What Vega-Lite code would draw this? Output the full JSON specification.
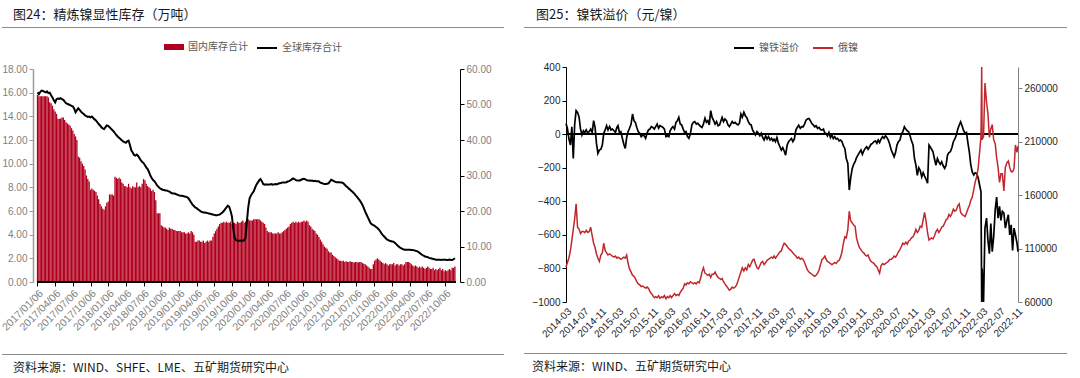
{
"$schema":"https://vega.github.io/schema/vega-lite/v6.json",
"padding":{"left":0,"top":8,"right":0,"bottom":0},
"background":"white",
"config":{"view":{"stroke":null},"font":"Noto Sans CJK SC",
"axis":{"grid":false,"title":null,"labelFont":"Liberation Sans","labelFontSize":10,"tickSize":4,"labelOverlap":false,"tickCount":100},
"legend":{"layout":{"top":{"anchor":"middle","direction":"horizontal","margin":8}}}},
"datasets":{
"inv":[
{"d":"2017-01-06","c":15.8,"g":53.4},{"d":"2017-01-13","c":15.7,"g":52.9},{"d":"2017-01-20","c":15.7,"g":53.5},{"d":"2017-01-27","c":15.7,"g":53.9},{"d":"2017-02-03","c":15.7,"g":53.8},{"d":"2017-02-10","c":15.7,"g":53.6},{"d":"2017-02-17","c":15.7,"g":53.4},{"d":"2017-02-24","c":15.7,"g":53.7},{"d":"2017-03-03","c":15.6,"g":53.2},{"d":"2017-03-10","c":15.2,"g":53.3},{"d":"2017-03-17","c":15.1,"g":52.6},{"d":"2017-03-24","c":14.9,"g":52.0},{"d":"2017-03-31","c":14.6,"g":51.2},
{"d":"2017-04-07","c":14.4,"g":50.6},{"d":"2017-04-14","c":14.2,"g":51.5},{"d":"2017-04-21","c":13.8,"g":51.7},{"d":"2017-04-28","c":13.8,"g":51.6},{"d":"2017-05-05","c":13.8,"g":51.8},{"d":"2017-05-12","c":13.9,"g":51.5},{"d":"2017-05-19","c":13.9,"g":51.3},{"d":"2017-05-26","c":13.7,"g":50.8},{"d":"2017-06-02","c":13.5,"g":50.4},{"d":"2017-06-09","c":13.4,"g":50.2},{"d":"2017-06-16","c":13.3,"g":50.0},{"d":"2017-06-23","c":13.2,"g":49.8},{"d":"2017-06-30","c":13.0,"g":49.6},
{"d":"2017-07-07","c":12.8,"g":49.5},{"d":"2017-07-14","c":12.5,"g":48.8},{"d":"2017-07-21","c":12.3,"g":47.8},{"d":"2017-07-28","c":12.0,"g":48.4},{"d":"2017-08-04","c":10.6,"g":48.9},{"d":"2017-08-11","c":10.5,"g":48.5},{"d":"2017-08-18","c":10.2,"g":48.0},{"d":"2017-08-25","c":10.0,"g":47.6},{"d":"2017-09-01","c":9.8,"g":47.3},{"d":"2017-09-08","c":9.5,"g":46.9},{"d":"2017-09-15","c":9.0,"g":46.7},{"d":"2017-09-22","c":8.7,"g":46.5},{"d":"2017-09-29","c":8.5,"g":46.6},
{"d":"2017-10-06","c":7.8,"g":46.4},{"d":"2017-10-13","c":7.9,"g":46.6},{"d":"2017-10-20","c":7.8,"g":46.2},{"d":"2017-10-27","c":7.7,"g":45.8},{"d":"2017-11-03","c":7.6,"g":45.5},{"d":"2017-11-10","c":7.3,"g":45.0},{"d":"2017-11-17","c":7.0,"g":44.5},{"d":"2017-11-24","c":6.6,"g":44.1},{"d":"2017-12-01","c":6.4,"g":43.6},{"d":"2017-12-08","c":6.2,"g":43.3},{"d":"2017-12-15","c":6.1,"g":43.1},{"d":"2017-12-22","c":6.4,"g":43.6},{"d":"2017-12-29","c":6.7,"g":44.1},
{"d":"2018-01-05","c":6.8,"g":44.0},{"d":"2018-01-12","c":7.4,"g":43.6},{"d":"2018-01-19","c":7.4,"g":43.2},{"d":"2018-01-26","c":7.4,"g":42.8},{"d":"2018-02-02","c":7.3,"g":42.4},{"d":"2018-02-09","c":8.9,"g":41.9},{"d":"2018-02-16","c":8.8,"g":41.4},{"d":"2018-02-23","c":8.7,"g":41.0},{"d":"2018-03-02","c":8.8,"g":40.6},{"d":"2018-03-09","c":8.7,"g":40.3},{"d":"2018-03-16","c":8.4,"g":39.9},{"d":"2018-03-23","c":8.3,"g":39.6},{"d":"2018-03-30","c":8.1,"g":39.4},
{"d":"2018-04-06","c":8.1,"g":39.2},{"d":"2018-04-13","c":8.0,"g":39.6},{"d":"2018-04-20","c":8.3,"g":39.8},{"d":"2018-04-27","c":8.0,"g":38.6},{"d":"2018-05-04","c":7.9,"g":37.1},{"d":"2018-05-11","c":8.1,"g":36.5},{"d":"2018-05-18","c":8.0,"g":35.8},{"d":"2018-05-25","c":8.0,"g":35.6},{"d":"2018-06-01","c":8.4,"g":35.9},{"d":"2018-06-08","c":8.0,"g":35.5},{"d":"2018-06-15","c":8.1,"g":34.9},{"d":"2018-06-22","c":8.0,"g":34.3},{"d":"2018-06-29","c":8.3,"g":33.8},
{"d":"2018-07-06","c":8.7,"g":33.5},{"d":"2018-07-13","c":8.6,"g":32.9},{"d":"2018-07-20","c":8.3,"g":32.3},{"d":"2018-07-27","c":8.1,"g":31.8},{"d":"2018-08-03","c":8.0,"g":31.0},{"d":"2018-08-10","c":7.9,"g":30.0},{"d":"2018-08-17","c":7.7,"g":29.3},{"d":"2018-08-24","c":7.8,"g":28.7},{"d":"2018-08-31","c":7.6,"g":28.4},{"d":"2018-09-07","c":6.9,"g":27.8},{"d":"2018-09-14","c":5.8,"g":27.2},{"d":"2018-09-21","c":5.8,"g":26.8},{"d":"2018-09-28","c":5.8,"g":26.4},
{"d":"2018-10-05","c":4.8,"g":26.2},{"d":"2018-10-12","c":4.7,"g":26.0},{"d":"2018-10-19","c":4.6,"g":25.9},{"d":"2018-10-26","c":4.6,"g":25.8},{"d":"2018-11-02","c":4.5,"g":25.8},{"d":"2018-11-09","c":4.4,"g":25.6},{"d":"2018-11-16","c":4.6,"g":25.5},{"d":"2018-11-23","c":4.5,"g":25.2},{"d":"2018-11-30","c":4.5,"g":25.0},{"d":"2018-12-07","c":4.4,"g":24.9},{"d":"2018-12-14","c":4.4,"g":24.9},{"d":"2018-12-21","c":4.3,"g":24.7},{"d":"2018-12-28","c":4.3,"g":24.6},
{"d":"2019-01-04","c":4.3,"g":24.4},{"d":"2019-01-11","c":4.3,"g":24.3},{"d":"2019-01-18","c":4.2,"g":24.3},{"d":"2019-01-25","c":4.2,"g":24.2},{"d":"2019-02-01","c":4.2,"g":24.1},{"d":"2019-02-08","c":4.1,"g":24.0},{"d":"2019-02-15","c":4.1,"g":23.9},{"d":"2019-02-22","c":4.2,"g":23.6},{"d":"2019-03-01","c":4.1,"g":23.0},{"d":"2019-03-08","c":4.3,"g":22.4},{"d":"2019-03-15","c":4.2,"g":21.8},{"d":"2019-03-22","c":4.0,"g":21.4},{"d":"2019-03-29","c":3.4,"g":21.0},
{"d":"2019-04-05","c":3.4,"g":20.8},{"d":"2019-04-12","c":3.5,"g":20.5},{"d":"2019-04-19","c":3.5,"g":20.2},{"d":"2019-04-26","c":3.4,"g":19.9},{"d":"2019-05-03","c":3.4,"g":19.7},{"d":"2019-05-10","c":3.5,"g":19.6},{"d":"2019-05-17","c":3.3,"g":19.6},{"d":"2019-05-24","c":3.4,"g":19.5},{"d":"2019-05-31","c":3.5,"g":19.4},{"d":"2019-06-07","c":3.4,"g":19.3},{"d":"2019-06-14","c":3.5,"g":19.2},{"d":"2019-06-21","c":3.5,"g":19.1},{"d":"2019-06-28","c":3.8,"g":19.0},
{"d":"2019-07-05","c":4.1,"g":18.9},{"d":"2019-07-12","c":4.3,"g":18.8},{"d":"2019-07-19","c":4.5,"g":18.8},{"d":"2019-07-26","c":4.7,"g":18.9},{"d":"2019-08-02","c":4.9,"g":19.0},{"d":"2019-08-09","c":5.0,"g":19.3},{"d":"2019-08-16","c":5.0,"g":19.6},{"d":"2019-08-23","c":5.1,"g":20.0},{"d":"2019-08-30","c":5.0,"g":20.5},{"d":"2019-09-06","c":5.1,"g":21.0},{"d":"2019-09-13","c":5.0,"g":21.5},{"d":"2019-09-20","c":5.0,"g":21.2},{"d":"2019-09-27","c":5.1,"g":20.0},
{"d":"2019-10-04","c":4.9,"g":18.5},{"d":"2019-10-11","c":5.0,"g":15.0},{"d":"2019-10-18","c":5.0,"g":12.5},{"d":"2019-10-25","c":4.9,"g":11.8},{"d":"2019-11-01","c":5.1,"g":11.6},{"d":"2019-11-08","c":5.0,"g":11.6},{"d":"2019-11-15","c":5.0,"g":11.6},{"d":"2019-11-22","c":5.1,"g":11.7},{"d":"2019-11-29","c":5.2,"g":11.6},{"d":"2019-12-06","c":5.0,"g":11.7},{"d":"2019-12-13","c":5.1,"g":12.5},{"d":"2019-12-20","c":5.2,"g":17.0},{"d":"2019-12-27","c":5.3,"g":21.0},
{"d":"2020-01-03","c":5.2,"g":23.6},{"d":"2020-01-10","c":5.2,"g":24.4},{"d":"2020-01-17","c":5.2,"g":25.0},{"d":"2020-01-24","c":5.3,"g":25.5},{"d":"2020-01-31","c":5.3,"g":26.5},{"d":"2020-02-07","c":5.3,"g":27.4},{"d":"2020-02-14","c":5.3,"g":28.0},{"d":"2020-02-21","c":5.3,"g":28.6},{"d":"2020-02-28","c":5.2,"g":29.0},{"d":"2020-03-06","c":5.1,"g":28.4},{"d":"2020-03-13","c":5.0,"g":27.6},{"d":"2020-03-20","c":4.9,"g":27.4},{"d":"2020-03-27","c":4.6,"g":27.5},
{"d":"2020-04-03","c":4.3,"g":27.4},{"d":"2020-04-10","c":4.2,"g":27.5},{"d":"2020-04-17","c":4.2,"g":27.5},{"d":"2020-04-24","c":4.2,"g":27.6},{"d":"2020-05-01","c":4.1,"g":27.4},{"d":"2020-05-08","c":4.1,"g":27.5},{"d":"2020-05-15","c":4.1,"g":27.6},{"d":"2020-05-22","c":4.1,"g":27.5},{"d":"2020-05-29","c":4.2,"g":27.7},{"d":"2020-06-05","c":4.1,"g":27.8},{"d":"2020-06-12","c":4.1,"g":27.9},{"d":"2020-06-19","c":4.2,"g":28.0},{"d":"2020-06-26","c":4.3,"g":28.0},
{"d":"2020-07-03","c":4.4,"g":28.0},{"d":"2020-07-10","c":4.5,"g":28.1},{"d":"2020-07-17","c":4.6,"g":28.3},{"d":"2020-07-24","c":4.7,"g":28.4},{"d":"2020-07-31","c":4.9,"g":28.6},{"d":"2020-08-07","c":5.0,"g":28.9},{"d":"2020-08-14","c":5.1,"g":29.2},{"d":"2020-08-21","c":5.0,"g":29.0},{"d":"2020-08-28","c":5.1,"g":28.7},{"d":"2020-09-04","c":5.0,"g":28.6},{"d":"2020-09-11","c":5.1,"g":28.6},{"d":"2020-09-18","c":5.0,"g":28.6},{"d":"2020-09-25","c":5.1,"g":28.8},
{"d":"2020-10-02","c":5.1,"g":29.0},{"d":"2020-10-09","c":5.2,"g":29.1},{"d":"2020-10-16","c":5.1,"g":28.9},{"d":"2020-10-23","c":5.2,"g":28.7},{"d":"2020-10-30","c":5.1,"g":28.6},{"d":"2020-11-06","c":4.8,"g":28.6},{"d":"2020-11-13","c":4.7,"g":28.5},{"d":"2020-11-20","c":4.5,"g":28.6},{"d":"2020-11-27","c":4.4,"g":28.4},{"d":"2020-12-04","c":4.3,"g":28.5},{"d":"2020-12-11","c":4.1,"g":28.4},{"d":"2020-12-18","c":4.0,"g":28.4},{"d":"2020-12-25","c":3.8,"g":28.3},
{"d":"2021-01-01","c":3.6,"g":28.0},{"d":"2021-01-08","c":3.4,"g":27.9},{"d":"2021-01-15","c":3.2,"g":27.7},{"d":"2021-01-22","c":3.0,"g":27.6},{"d":"2021-01-29","c":2.9,"g":27.6},{"d":"2021-02-05","c":2.8,"g":27.7},{"d":"2021-02-12","c":2.6,"g":27.8},{"d":"2021-02-19","c":2.5,"g":28.3},{"d":"2021-02-26","c":2.5,"g":28.8},{"d":"2021-03-05","c":2.3,"g":28.6},{"d":"2021-03-12","c":2.2,"g":28.4},{"d":"2021-03-19","c":2.1,"g":28.2},{"d":"2021-03-26","c":2.0,"g":28.1},
{"d":"2021-04-02","c":1.9,"g":28.1},{"d":"2021-04-09","c":1.8,"g":28.1},{"d":"2021-04-16","c":1.8,"g":28.0},{"d":"2021-04-23","c":1.75,"g":28.0},{"d":"2021-04-30","c":1.8,"g":27.8},{"d":"2021-05-07","c":1.7,"g":27.4},{"d":"2021-05-14","c":1.75,"g":27.0},{"d":"2021-05-21","c":1.7,"g":26.7},{"d":"2021-05-28","c":1.7,"g":26.3},{"d":"2021-06-04","c":1.75,"g":26.0},{"d":"2021-06-11","c":1.7,"g":25.6},{"d":"2021-06-18","c":1.7,"g":25.3},{"d":"2021-06-25","c":1.65,"g":24.9},
{"d":"2021-07-02","c":1.7,"g":24.4},{"d":"2021-07-09","c":1.7,"g":24.0},{"d":"2021-07-16","c":1.65,"g":23.5},{"d":"2021-07-23","c":1.7,"g":23.0},{"d":"2021-07-30","c":1.7,"g":22.4},{"d":"2021-08-06","c":1.6,"g":21.7},{"d":"2021-08-13","c":1.55,"g":20.8},{"d":"2021-08-20","c":1.5,"g":19.8},{"d":"2021-08-27","c":1.4,"g":19.0},{"d":"2021-09-03","c":1.3,"g":18.2},{"d":"2021-09-10","c":1.2,"g":17.4},{"d":"2021-09-17","c":1.1,"g":16.6},{"d":"2021-09-24","c":1.1,"g":16.2},
{"d":"2021-10-01","c":1.5,"g":16.0},{"d":"2021-10-08","c":1.8,"g":15.8},{"d":"2021-10-15","c":1.9,"g":15.5},{"d":"2021-10-22","c":2.0,"g":15.2},{"d":"2021-10-29","c":1.9,"g":14.8},{"d":"2021-11-05","c":1.8,"g":14.3},{"d":"2021-11-12","c":1.7,"g":13.7},{"d":"2021-11-19","c":1.6,"g":13.2},{"d":"2021-11-26","c":1.5,"g":12.8},{"d":"2021-12-03","c":1.6,"g":12.4},{"d":"2021-12-10","c":1.5,"g":12.0},{"d":"2021-12-17","c":1.4,"g":11.8},{"d":"2021-12-24","c":1.5,"g":11.6},
{"d":"2021-12-31","c":1.5,"g":11.5},{"d":"2022-01-07","c":1.5,"g":11.4},{"d":"2022-01-14","c":1.6,"g":11.3},{"d":"2022-01-21","c":1.4,"g":11.0},{"d":"2022-01-28","c":1.5,"g":10.6},{"d":"2022-02-04","c":1.5,"g":10.2},{"d":"2022-02-11","c":1.4,"g":9.9},{"d":"2022-02-18","c":1.5,"g":9.6},{"d":"2022-02-25","c":1.5,"g":9.4},{"d":"2022-03-04","c":1.4,"g":9.2},{"d":"2022-03-11","c":1.5,"g":9.1},{"d":"2022-03-18","c":1.7,"g":9.1},{"d":"2022-03-25","c":1.7,"g":9.1},
{"d":"2022-04-01","c":1.7,"g":9.1},{"d":"2022-04-08","c":1.6,"g":9.1},{"d":"2022-04-15","c":1.5,"g":9.0},{"d":"2022-04-22","c":1.4,"g":9.0},{"d":"2022-04-29","c":1.3,"g":8.9},{"d":"2022-05-06","c":1.4,"g":8.8},{"d":"2022-05-13","c":1.3,"g":8.7},{"d":"2022-05-20","c":1.2,"g":8.5},{"d":"2022-05-27","c":1.3,"g":8.2},{"d":"2022-06-03","c":1.2,"g":7.9},{"d":"2022-06-10","c":1.3,"g":7.6},{"d":"2022-06-17","c":1.2,"g":7.4},{"d":"2022-06-24","c":1.1,"g":7.2},
{"d":"2022-07-01","c":1.2,"g":7.1},{"d":"2022-07-08","c":1.3,"g":7.0},{"d":"2022-07-15","c":1.2,"g":6.8},{"d":"2022-07-22","c":1.1,"g":6.7},{"d":"2022-07-29","c":1.1,"g":6.6},{"d":"2022-08-05","c":1.2,"g":6.5},{"d":"2022-08-12","c":1.0,"g":6.4},{"d":"2022-08-19","c":1.1,"g":6.3},{"d":"2022-08-26","c":1.0,"g":6.3},{"d":"2022-09-02","c":1.1,"g":6.3},{"d":"2022-09-09","c":1.2,"g":6.3},{"d":"2022-09-16","c":1.0,"g":6.2},{"d":"2022-09-23","c":1.1,"g":6.3},
{"d":"2022-09-30","c":0.9,"g":6.3},{"d":"2022-10-07","c":1.0,"g":6.3},{"d":"2022-10-14","c":0.9,"g":6.2},{"d":"2022-10-21","c":1.0,"g":6.2},{"d":"2022-10-28","c":1.1,"g":6.3},{"d":"2022-11-04","c":1.0,"g":6.2},{"d":"2022-11-11","c":1.2,"g":6.2},{"d":"2022-11-18","c":1.2,"g":6.4},{"d":"2022-11-25","c":1.3,"g":6.7}
],
"ni":[
{"d":"2014-03-01","p":63,"r":92800},{"d":"2014-03-11","p":34,"r":97000},{"d":"2014-03-21","p":-26,"r":101000},
{"d":"2014-04-01","p":-65,"r":108000},{"d":"2014-04-11","p":44,"r":118000},{"d":"2014-04-21","p":-145,"r":128000},
{"d":"2014-05-01","p":60,"r":138000},{"d":"2014-05-11","p":140,"r":152000},{"d":"2014-05-21","p":130,"r":130000},
{"d":"2014-06-01","p":100,"r":128000},{"d":"2014-06-11","p":30,"r":124000},{"d":"2014-06-21","p":-5,"r":126000},
{"d":"2014-07-01","p":20,"r":126000},{"d":"2014-07-11","p":10,"r":125000},{"d":"2014-07-21","p":25,"r":127000},
{"d":"2014-08-01","p":5,"r":125000},{"d":"2014-08-11","p":15,"r":126000},{"d":"2014-08-21","p":30,"r":130000},
{"d":"2014-09-01","p":10,"r":122000},{"d":"2014-09-11","p":80,"r":115000},{"d":"2014-09-21","p":40,"r":111000},
{"d":"2014-10-01","p":-55,"r":105000},{"d":"2014-10-11","p":-115,"r":101000},{"d":"2014-10-21","p":-95,"r":98000},
{"d":"2014-11-01","p":-90,"r":104000},{"d":"2014-11-11","p":-65,"r":106000},{"d":"2014-11-21","p":5,"r":115000},
{"d":"2014-12-01","p":25,"r":108000},{"d":"2014-12-11","p":50,"r":106000},{"d":"2014-12-21","p":25,"r":104000},
{"d":"2015-01-01","p":45,"r":105000},{"d":"2015-01-11","p":25,"r":104000},{"d":"2015-01-21","p":30,"r":103000},
{"d":"2015-02-01","p":20,"r":102000},{"d":"2015-02-11","p":10,"r":103000},{"d":"2015-02-21","p":40,"r":101000},
{"d":"2015-03-01","p":50,"r":102000},{"d":"2015-03-11","p":10,"r":101000},{"d":"2015-03-21","p":15,"r":100000},
{"d":"2015-04-01","p":-26,"r":101000},{"d":"2015-04-11","p":-60,"r":102000},{"d":"2015-04-21","p":-85,"r":101000},
{"d":"2015-05-01","p":-20,"r":104000},{"d":"2015-05-11","p":15,"r":96000},{"d":"2015-05-21","p":35,"r":91000},
{"d":"2015-06-01","p":60,"r":88000},{"d":"2015-06-11","p":120,"r":85000},{"d":"2015-06-21","p":80,"r":84000},
{"d":"2015-07-01","p":70,"r":82000},{"d":"2015-07-11","p":40,"r":79000},{"d":"2015-07-21","p":15,"r":77000},
{"d":"2015-08-01","p":5,"r":76000},{"d":"2015-08-11","p":-15,"r":74500},{"d":"2015-08-21","p":-5,"r":75000},
{"d":"2015-09-01","p":-10,"r":74000},{"d":"2015-09-11","p":-25,"r":73000},{"d":"2015-09-21","p":5,"r":74000},
{"d":"2015-10-01","p":25,"r":73000},{"d":"2015-10-11","p":30,"r":70000},{"d":"2015-10-21","p":45,"r":68000},
{"d":"2015-11-01","p":40,"r":66000},{"d":"2015-11-11","p":30,"r":64000},{"d":"2015-11-21","p":45,"r":65000},
{"d":"2015-12-01","p":60,"r":64000},{"d":"2015-12-11","p":35,"r":66000},{"d":"2015-12-21","p":50,"r":63500},
{"d":"2016-01-01","p":45,"r":65000},{"d":"2016-01-11","p":40,"r":64000},{"d":"2016-01-21","p":30,"r":66000},
{"d":"2016-02-01","p":-15,"r":63000},{"d":"2016-02-11","p":-10,"r":65000},{"d":"2016-02-21","p":-15,"r":64000},
{"d":"2016-03-01","p":20,"r":66000},{"d":"2016-03-11","p":35,"r":64000},{"d":"2016-03-21","p":45,"r":66000},
{"d":"2016-04-01","p":30,"r":68000},{"d":"2016-04-11","p":70,"r":66000},{"d":"2016-04-21","p":80,"r":67000},
{"d":"2016-05-01","p":100,"r":66000},{"d":"2016-05-11","p":60,"r":69000},{"d":"2016-05-21","p":55,"r":71000},
{"d":"2016-06-01","p":30,"r":73000},{"d":"2016-06-11","p":10,"r":77000},{"d":"2016-06-21","p":15,"r":76000},
{"d":"2016-07-01","p":-15,"r":78000},{"d":"2016-07-11","p":-25,"r":77000},{"d":"2016-07-21","p":0,"r":79000},
{"d":"2016-08-01","p":55,"r":78000},{"d":"2016-08-11","p":70,"r":77000},{"d":"2016-08-21","p":75,"r":78000},
{"d":"2016-09-01","p":60,"r":77000},{"d":"2016-09-11","p":65,"r":79000},{"d":"2016-09-21","p":55,"r":78000},
{"d":"2016-10-01","p":45,"r":82000},{"d":"2016-10-11","p":40,"r":88000},{"d":"2016-10-21","p":60,"r":92000},
{"d":"2016-11-01","p":95,"r":87000},{"d":"2016-11-11","p":70,"r":86000},{"d":"2016-11-21","p":80,"r":85000},
{"d":"2016-12-01","p":55,"r":86000},{"d":"2016-12-11","p":140,"r":83000},{"d":"2016-12-21","p":100,"r":86000},
{"d":"2017-01-01","p":80,"r":86000},{"d":"2017-01-11","p":60,"r":88000},{"d":"2017-01-21","p":75,"r":85000},
{"d":"2017-02-01","p":50,"r":83000},{"d":"2017-02-11","p":55,"r":82000},{"d":"2017-02-21","p":80,"r":81000},
{"d":"2017-03-01","p":100,"r":82000},{"d":"2017-03-11","p":75,"r":79000},{"d":"2017-03-21","p":90,"r":77000},
{"d":"2017-04-01","p":80,"r":75000},{"d":"2017-04-11","p":55,"r":73000},{"d":"2017-04-21","p":45,"r":71000},
{"d":"2017-05-01","p":60,"r":72000},{"d":"2017-05-11","p":75,"r":74000},{"d":"2017-05-21","p":65,"r":73000},
{"d":"2017-06-01","p":70,"r":74000},{"d":"2017-06-11","p":60,"r":76000},{"d":"2017-06-21","p":55,"r":80000},
{"d":"2017-07-01","p":65,"r":84000},{"d":"2017-07-11","p":120,"r":88000},{"d":"2017-07-21","p":100,"r":92000},
{"d":"2017-08-01","p":130,"r":89000},{"d":"2017-08-11","p":110,"r":92000},{"d":"2017-08-21","p":100,"r":90000},
{"d":"2017-09-01","p":75,"r":95000},{"d":"2017-09-11","p":60,"r":93000},{"d":"2017-09-21","p":55,"r":96000},
{"d":"2017-10-01","p":25,"r":99000},{"d":"2017-10-11","p":10,"r":100000},{"d":"2017-10-21","p":-5,"r":96000},
{"d":"2017-11-01","p":15,"r":92000},{"d":"2017-11-11","p":5,"r":91000},{"d":"2017-11-21","p":-10,"r":94000},
{"d":"2017-12-01","p":5,"r":97000},{"d":"2017-12-11","p":-20,"r":98000},{"d":"2017-12-21","p":-35,"r":95000},
{"d":"2018-01-01","p":-10,"r":97000},{"d":"2018-01-11","p":-30,"r":99000},{"d":"2018-01-21","p":-15,"r":100000},
{"d":"2018-02-01","p":-35,"r":101000},{"d":"2018-02-11","p":-25,"r":102000},{"d":"2018-02-21","p":-40,"r":101000},
{"d":"2018-03-01","p":-30,"r":103000},{"d":"2018-03-11","p":-45,"r":101000},{"d":"2018-03-21","p":-20,"r":103000},
{"d":"2018-04-01","p":-55,"r":105000},{"d":"2018-04-11","p":-75,"r":107000},{"d":"2018-04-21","p":-95,"r":108000},
{"d":"2018-05-01","p":-80,"r":112000},{"d":"2018-05-11","p":-100,"r":115000},{"d":"2018-05-21","p":-125,"r":114000},
{"d":"2018-06-01","p":-65,"r":112000},{"d":"2018-06-11","p":-45,"r":110000},{"d":"2018-06-21","p":-35,"r":109000},
{"d":"2018-07-01","p":-26,"r":107700},{"d":"2018-07-11","p":-45,"r":106000},{"d":"2018-07-21","p":-30,"r":104500},
{"d":"2018-08-01","p":24,"r":103000},{"d":"2018-08-11","p":40,"r":101000},{"d":"2018-08-21","p":53,"r":102000},
{"d":"2018-09-01","p":35,"r":100000},{"d":"2018-09-11","p":45,"r":101000},{"d":"2018-09-21","p":44,"r":99800},
{"d":"2018-10-01","p":60,"r":97000},{"d":"2018-10-11","p":83,"r":93500},{"d":"2018-10-21","p":90,"r":90000},
{"d":"2018-11-01","p":93,"r":88000},{"d":"2018-11-11","p":80,"r":87000},{"d":"2018-11-21","p":63,"r":86000},
{"d":"2018-12-01","p":55,"r":85000},{"d":"2018-12-11","p":44,"r":84000},{"d":"2018-12-21","p":50,"r":85000},
{"d":"2019-01-01","p":34,"r":87000},{"d":"2019-01-11","p":40,"r":90000},{"d":"2019-01-21","p":28,"r":95000},
{"d":"2019-02-01","p":24,"r":99800},{"d":"2019-02-11","p":30,"r":101000},{"d":"2019-02-21","p":4,"r":103000},
{"d":"2019-03-01","p":4,"r":100000},{"d":"2019-03-11","p":-10,"r":98000},{"d":"2019-03-21","p":10,"r":97000},
{"d":"2019-04-01","p":-20,"r":96000},{"d":"2019-04-11","p":-5,"r":95000},{"d":"2019-04-21","p":-26,"r":96000},
{"d":"2019-05-01","p":-15,"r":97000},{"d":"2019-05-11","p":-30,"r":96000},{"d":"2019-05-21","p":-25,"r":98000},
{"d":"2019-06-01","p":-40,"r":99000},{"d":"2019-06-11","p":-35,"r":102000},{"d":"2019-06-21","p":-45,"r":107000},
{"d":"2019-07-01","p":-70,"r":115000},{"d":"2019-07-11","p":-85,"r":121000},{"d":"2019-07-21","p":-145,"r":120000},
{"d":"2019-08-01","p":-174,"r":128000},{"d":"2019-08-11","p":-333,"r":145000},{"d":"2019-08-21","p":-260,"r":136000},
{"d":"2019-09-01","p":-204,"r":134000},{"d":"2019-09-11","p":-180,"r":132000},{"d":"2019-09-21","p":-164,"r":131000},
{"d":"2019-10-01","p":-140,"r":120000},{"d":"2019-10-11","p":-125,"r":115000},{"d":"2019-10-21","p":-110,"r":111000},
{"d":"2019-11-01","p":-95,"r":109000},{"d":"2019-11-11","p":-120,"r":107000},{"d":"2019-11-21","p":-100,"r":106000},
{"d":"2019-12-01","p":-85,"r":104000},{"d":"2019-12-11","p":-75,"r":103000},{"d":"2019-12-21","p":-90,"r":104000},
{"d":"2020-01-01","p":-75,"r":100000},{"d":"2020-01-11","p":-60,"r":98000},{"d":"2020-01-21","p":-55,"r":97000},
{"d":"2020-02-01","p":-45,"r":96000},{"d":"2020-02-11","p":-40,"r":94000},{"d":"2020-02-21","p":-55,"r":93000},
{"d":"2020-03-01","p":-35,"r":90000},{"d":"2020-03-11","p":-50,"r":87000},{"d":"2020-03-21","p":-30,"r":94000},
{"d":"2020-04-01","p":-15,"r":96000},{"d":"2020-04-11","p":-25,"r":95000},{"d":"2020-04-21","p":-10,"r":96000},
{"d":"2020-05-01","p":-20,"r":97000},{"d":"2020-05-11","p":-35,"r":98000},{"d":"2020-05-21","p":-60,"r":99800},
{"d":"2020-06-01","p":-95,"r":100000},{"d":"2020-06-11","p":-115,"r":101000},{"d":"2020-06-21","p":-135,"r":103000},
{"d":"2020-07-01","p":-110,"r":102000},{"d":"2020-07-11","p":-65,"r":104000},{"d":"2020-07-21","p":-45,"r":107000},
{"d":"2020-08-01","p":-35,"r":109000},{"d":"2020-08-11","p":0,"r":112000},{"d":"2020-08-21","p":14,"r":115000},
{"d":"2020-09-01","p":44,"r":114000},{"d":"2020-09-11","p":30,"r":116000},{"d":"2020-09-21","p":20,"r":114000},
{"d":"2020-10-01","p":14,"r":117000},{"d":"2020-10-11","p":-10,"r":118000},{"d":"2020-10-21","p":-40,"r":120000},
{"d":"2020-11-01","p":-65,"r":121000},{"d":"2020-11-11","p":-145,"r":124000},{"d":"2020-11-21","p":-185,"r":128000},
{"d":"2020-12-01","p":-245,"r":125000},{"d":"2020-12-11","p":-200,"r":127000},{"d":"2020-12-21","p":-215,"r":131000},
{"d":"2021-01-01","p":-255,"r":130000},{"d":"2021-01-11","p":-230,"r":137000},{"d":"2021-01-21","p":-250,"r":144000},
{"d":"2021-02-01","p":-270,"r":135000},{"d":"2021-02-11","p":-293,"r":124600},{"d":"2021-02-21","p":-65,"r":118000},
{"d":"2021-03-01","p":-75,"r":119000},{"d":"2021-03-11","p":-90,"r":120000},{"d":"2021-03-21","p":-105,"r":119000},
{"d":"2021-04-01","p":-150,"r":122000},{"d":"2021-04-11","p":-185,"r":126000},{"d":"2021-04-21","p":-145,"r":128000},
{"d":"2021-05-01","p":-165,"r":125000},{"d":"2021-05-11","p":-180,"r":127000},{"d":"2021-05-21","p":-165,"r":130000},
{"d":"2021-06-01","p":-190,"r":131000},{"d":"2021-06-11","p":-204,"r":134000},{"d":"2021-06-21","p":-185,"r":137000},
{"d":"2021-07-01","p":-125,"r":138000},{"d":"2021-07-11","p":-110,"r":142000},{"d":"2021-07-21","p":-105,"r":140000},
{"d":"2021-08-01","p":-80,"r":143000},{"d":"2021-08-11","p":-45,"r":147000},{"d":"2021-08-21","p":-30,"r":145000},
{"d":"2021-09-01","p":-5,"r":146000},{"d":"2021-09-11","p":30,"r":150000},{"d":"2021-09-21","p":53,"r":151800},
{"d":"2021-10-01","p":73,"r":144000},{"d":"2021-10-11","p":50,"r":142000},{"d":"2021-10-21","p":24,"r":141000},
{"d":"2021-11-01","p":4,"r":140000},{"d":"2021-11-11","p":10,"r":143000},{"d":"2021-11-21","p":-50,"r":147000},
{"d":"2021-12-01","p":-105,"r":150000},{"d":"2021-12-11","p":-180,"r":155000},{"d":"2021-12-21","p":-224,"r":158000},
{"d":"2022-01-01","p":-243,"r":165000},{"d":"2022-01-11","p":-230,"r":172000},{"d":"2022-01-21","p":-234,"r":177000},
{"d":"2022-02-01","p":-260,"r":185000},{"d":"2022-02-11","p":-303,"r":200000},{"d":"2022-02-21","p":-343,"r":215000},{"d":"2022-02-26","p":-1000,"r":280000},
{"d":"2022-03-01","p":-800,"r":212000},{"d":"2022-03-11","p":-1000,"r":215000},{"d":"2022-03-21","p":-560,"r":265000},
{"d":"2022-04-01","p":-500,"r":247000},{"d":"2022-04-11","p":-633,"r":236000},{"d":"2022-04-21","p":-712,"r":214000},
{"d":"2022-05-01","p":-533,"r":222000},{"d":"2022-05-11","p":-700,"r":226000},{"d":"2022-05-21","p":-613,"r":212000},
{"d":"2022-06-01","p":-450,"r":208000},{"d":"2022-06-11","p":-375,"r":195000},{"d":"2022-06-21","p":-500,"r":186000},
{"d":"2022-07-01","p":-430,"r":172000},{"d":"2022-07-11","p":-514,"r":180000},{"d":"2022-07-21","p":-460,"r":180000},
{"d":"2022-08-01","p":-470,"r":164000},{"d":"2022-08-11","p":-560,"r":186000},{"d":"2022-08-21","p":-520,"r":190000},
{"d":"2022-09-01","p":-480,"r":192000},{"d":"2022-09-11","p":-600,"r":186000},{"d":"2022-09-21","p":-540,"r":182000},
{"d":"2022-10-01","p":-693,"r":182000},{"d":"2022-10-11","p":-560,"r":185000},{"d":"2022-10-21","p":-600,"r":207000},
{"d":"2022-11-01","p":-650,"r":200000},{"d":"2022-11-08","p":-700,"r":206000}
]},
"spacing":20,
"resolve":{"scale":{"color":"independent","stroke":"independent"},"legend":{"color":"independent","stroke":"independent"}},
"hconcat":[
{"vconcat":[
 {"width":502,"height":1,"data":{"values":[{}]},"mark":{"type":"text"},"encoding":{"text":{"value":""}},
  "view":{"fill":"#8c8c8c","stroke":null},
  "title":{"text":"图24：精炼镍显性库存（万吨）","anchor":"start","font":"Noto Sans CJK SC","fontSize":13,"fontWeight":"normal","color":"#1a1a1a","offset":0,"dx":11}},
 {"width":502,"height":213,"data":{"name":"inv"},
  "layer":[
   {"layer":[
    {"mark":{"type":"bar","size":1.3,"color":"#B0001E"},
     "encoding":{
      "x":{"field":"d","type":"temporal","scale":{"type":"utc","domain":[{"year":2016,"month":8,"date":2,"utc":true},{"year":2023,"month":7,"date":10,"utc":true}]},
       "axis":{"format":"%Y/%m/%d","labelAngle":-45,"labelFontSize":10.5,"labelColor":"#7f7f7f","domain":false,"tickColor":"#000000","labelPadding":2,"labelOverlap":false,"tickCount":100,"minExtent":62,"maxExtent":62,
        "values":[{"year":2017,"month":1,"date":6,"utc":true},{"year":2017,"month":4,"date":6,"utc":true},{"year":2017,"month":7,"date":6,"utc":true},{"year":2017,"month":10,"date":6,"utc":true},{"year":2018,"month":1,"date":6,"utc":true},{"year":2018,"month":4,"date":6,"utc":true},{"year":2018,"month":7,"date":6,"utc":true},{"year":2018,"month":10,"date":6,"utc":true},{"year":2019,"month":1,"date":6,"utc":true},{"year":2019,"month":4,"date":6,"utc":true},{"year":2019,"month":7,"date":6,"utc":true},{"year":2019,"month":10,"date":6,"utc":true},{"year":2020,"month":1,"date":6,"utc":true},{"year":2020,"month":4,"date":6,"utc":true},{"year":2020,"month":7,"date":6,"utc":true},{"year":2020,"month":10,"date":6,"utc":true},{"year":2021,"month":1,"date":6,"utc":true},{"year":2021,"month":4,"date":6,"utc":true},{"year":2021,"month":7,"date":6,"utc":true},{"year":2021,"month":10,"date":6,"utc":true},{"year":2022,"month":1,"date":6,"utc":true},{"year":2022,"month":4,"date":6,"utc":true},{"year":2022,"month":7,"date":6,"utc":true},{"year":2022,"month":10,"date":6,"utc":true}]}},
      "y":{"field":"c","type":"quantitative","scale":{"domain":[0,18]},
       "axis":{"values":[0,2,4,6,8,10,12,14,16,18],"format":".2f","labelColor":"#7f7f7f","domainColor":"#9a9a9a","domainWidth":1.5,"tickColor":"#9a9a9a","labelOverlap":false,"tickCount":100,"offset":-31}},
      "color":{"datum":"国内库存合计","scale":{"range":["#B0001E"]},
       "legend":{"orient":"top","title":null,"symbolType":"M-1,-0.3H1V0.3H-1Z","symbolSize":400,"symbolStrokeWidth":0,"labelFontSize":10,"labelColor":"#595959","labelFont":"Noto Sans CJK SC","offset":16,"padding":0}}}},
    {"mark":{"type":"rule","color":"#000000","strokeWidth":1},
     "encoding":{
      "x":{"datum":{"year":2017,"month":1,"date":5,"utc":true},"type":"temporal"},
      "x2":{"datum":{"year":2022,"month":11,"date":30,"utc":true}},
      "y":{"datum":0,"type":"quantitative"}}}
   ]},
   {"mark":{"type":"line","strokeWidth":2,"color":"#000000"},
    "encoding":{
     "x":{"field":"d","type":"temporal"},
     "y":{"field":"g","type":"quantitative","scale":{"domain":[0,60]},
      "axis":{"orient":"right","values":[0,10,20,30,40,50,60],"format":".2f","labelColor":"#7f7f7f","domainColor":"#000000","tickColor":"#000000","labelOverlap":false,"tickCount":100,"offset":-44}},
     "stroke":{"datum":"全球库存合计","scale":{"range":["#000000"]},
      "legend":{"orient":"top","title":null,"symbolType":"stroke","symbolSize":400,"symbolStrokeWidth":2,"labelFontSize":10,"labelColor":"#595959","labelFont":"Noto Sans CJK SC","offset":16,"padding":0}}}}
  ],
  "resolve":{"scale":{"y":"independent"}}},
 {"width":502,"height":1,"data":{"values":[{}]},"mark":{"type":"text"},"encoding":{"text":{"value":""}},
  "view":{"fill":"#8c8c8c","stroke":null},
  "title":{"text":"资料来源：WIND、SHFE、LME、五矿期货研究中心","orient":"bottom","anchor":"start","font":"Noto Sans CJK SC","fontSize":12,"fontWeight":"normal","color":"#1a1a1a","offset":3,"dx":11}}
],"spacing":4,
"resolve":{"scale":{"color":"independent","stroke":"independent"},"legend":{"color":"independent","stroke":"independent"}}},
{"vconcat":[
 {"width":543,"height":1,"data":{"values":[{}]},"mark":{"type":"text"},"encoding":{"text":{"value":""}},
  "view":{"fill":"#8c8c8c","stroke":null},
  "title":{"text":"图25：镍铁溢价（元/镍）","anchor":"start","font":"Noto Sans CJK SC","fontSize":13,"fontWeight":"normal","color":"#1a1a1a","offset":0,"dx":12}},
 {"width":543,"height":235,"data":{"name":"ni"},
  "layer":[
   {"layer":[
     {"mark":{"type":"line","strokeWidth":1.7,"clip":true},
      "encoding":{
       "x":{"field":"d","type":"temporal","scale":{"type":"utc","domain":[{"year":2013,"month":5,"date":10,"utc":true},{"year":2023,"month":10,"date":18,"utc":true}]},
        "axis":{"format":"%Y-%m","labelAngle":-45,"labelFontSize":10,"labelColor":"#262626","domain":false,"ticks":false,"labelPadding":4,"labelOverlap":false,"tickCount":100,"minExtent":41,"maxExtent":41,
         "values":[{"year":2014,"month":3,"date":1,"utc":true},{"year":2014,"month":7,"date":1,"utc":true},{"year":2014,"month":11,"date":1,"utc":true},{"year":2015,"month":3,"date":1,"utc":true},{"year":2015,"month":7,"date":1,"utc":true},{"year":2015,"month":11,"date":1,"utc":true},{"year":2016,"month":3,"date":1,"utc":true},{"year":2016,"month":7,"date":1,"utc":true},{"year":2016,"month":11,"date":1,"utc":true},{"year":2017,"month":3,"date":1,"utc":true},{"year":2017,"month":7,"date":1,"utc":true},{"year":2017,"month":11,"date":1,"utc":true},{"year":2018,"month":3,"date":1,"utc":true},{"year":2018,"month":7,"date":1,"utc":true},{"year":2018,"month":11,"date":1,"utc":true},{"year":2019,"month":3,"date":1,"utc":true},{"year":2019,"month":7,"date":1,"utc":true},{"year":2019,"month":11,"date":1,"utc":true},{"year":2020,"month":3,"date":1,"utc":true},{"year":2020,"month":7,"date":1,"utc":true},{"year":2020,"month":11,"date":1,"utc":true},{"year":2021,"month":3,"date":1,"utc":true},{"year":2021,"month":7,"date":1,"utc":true},{"year":2021,"month":11,"date":1,"utc":true},{"year":2022,"month":3,"date":1,"utc":true},{"year":2022,"month":7,"date":1,"utc":true},{"year":2022,"month":11,"date":1,"utc":true}]}},
       "y":{"field":"p","type":"quantitative","scale":{"domain":[-1000,400]},
        "axis":{"values":[-1000,-800,-600,-400,-200,0,200,400],"format":"d","labelColor":"#262626","domainColor":"#000000","tickColor":"#000000","labelOverlap":false,"tickCount":100,"offset":-42}},
       "stroke":{"datum":"镍铁溢价","scale":{"domain":["镍铁溢价","俄镍"],"range":["#000000","#C0272D"]},
        "legend":{"orient":"top","title":null,"symbolType":"stroke","symbolSize":400,"symbolStrokeWidth":2,"labelFontSize":10,"labelColor":"#595959","labelFont":"Noto Sans CJK SC","offset":14,"padding":0,"columnPadding":10}}}},
     {"mark":{"type":"rule","color":"#000000","strokeWidth":1},
      "encoding":{
       "x":{"datum":{"year":2014,"month":3,"date":1,"utc":true},"type":"temporal"},
       "x2":{"datum":{"year":2022,"month":11,"date":8,"utc":true}},
       "y":{"datum":0,"type":"quantitative"}}}
   ]},
   {"mark":{"type":"line","strokeWidth":1.5,"clip":true},
    "encoding":{
     "x":{"field":"d","type":"temporal"},
     "y":{"field":"r","type":"quantitative","scale":{"domain":[60000,280000]},
      "axis":{"orient":"right","values":[60000,110000,160000,210000,260000],"format":"d","labelColor":"#262626","domainColor":"#808080","tickColor":"#808080","labelOverlap":false,"tickCount":100,"offset":-49}},
     "stroke":{"datum":"俄镍"}}}
  ],
  "resolve":{"scale":{"y":"independent"}}},
 {"width":543,"height":1,"data":{"values":[{}]},"mark":{"type":"text"},"encoding":{"text":{"value":""}},
  "view":{"fill":"#8c8c8c","stroke":null},
  "title":{"text":"资料来源：WIND、五矿期货研究中心","orient":"bottom","anchor":"start","font":"Noto Sans CJK SC","fontSize":12,"fontWeight":"normal","color":"#1a1a1a","offset":3,"dx":8}}
],"spacing":4,
"resolve":{"scale":{"color":"independent","stroke":"independent"},"legend":{"color":"independent","stroke":"independent"}}}
]
}
